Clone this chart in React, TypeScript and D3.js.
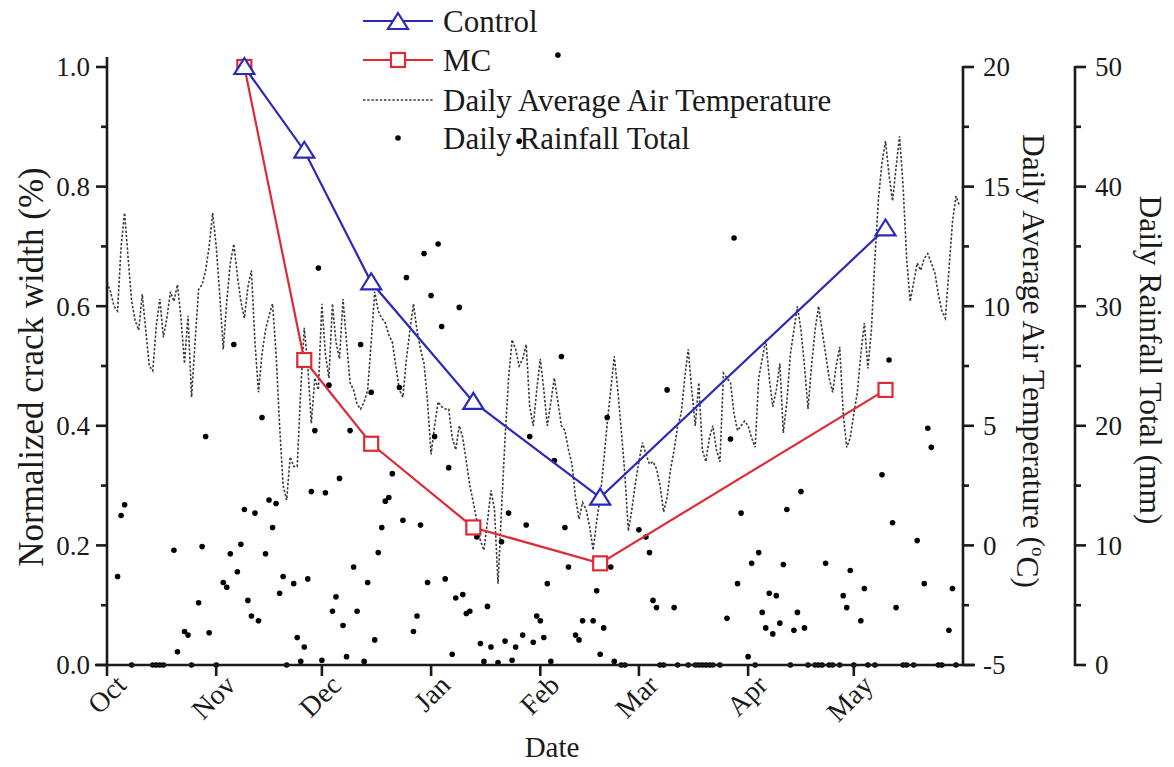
import React, { useEffect, useRef } from "react";
import * as d3 from "d3";

// ---------- DATA ----------
const startDate = "2017-10-01";
const endDate = "2018-06-01";
const monthTicks = ["2017-10-01", "2017-11-01", "2017-12-01", "2018-01-01", "2018-02-01", "2018-03-01", "2018-04-01", "2018-05-01"];
const monthLabels = ["Oct", "Nov", "Dec", "Jan", "Feb", "Mar", "Apr", "May"];

const measureDates = ["2017-11-09", "2017-11-26", "2017-12-15", "2018-01-13", "2018-02-18", "2018-05-10"];
const controlValues = [1.0, 0.86, 0.64, 0.44, 0.28, 0.73];
const mcValues = [1.0, 0.51, 0.37, 0.23, 0.17, 0.46];

// daily average air temperature (°C), one value per day starting 2017-10-01
const dailyTemperature = [
  11.0, 10.6, 10.0, 9.8, 12.5, 13.9, 12.0, 10.2, 9.4, 9.0,
  10.5, 9.0, 7.5, 7.3, 9.2, 10.3, 8.7, 9.5, 10.6, 10.2,
  10.9, 9.5, 7.6, 9.6, 6.2, 8.5, 10.7, 10.9, 11.5, 12.5,
  13.9, 12.5, 10.5, 8.2, 10.2, 11.8, 12.6, 11.3, 10.2, 9.5,
  10.8, 11.5, 8.5, 6.4, 8.0, 9.0, 9.6, 10.1, 8.0, 5.0,
  2.5, 1.9, 3.7, 3.3, 3.3, 6.5, 9.1, 7.5, 5.1, 7.0,
  6.5, 10.1, 8.0, 7.0, 10.1, 8.5, 7.8, 10.3, 8.5, 6.8,
  6.5, 5.9, 5.7, 6.0, 6.5, 8.5, 10.6, 9.8, 9.5, 9.3,
  8.8, 8.5, 7.5, 6.5, 6.2, 7.8, 9.0, 10.1, 9.0, 8.2,
  7.6, 6.0, 3.8, 5.0, 6.0, 5.8, 5.7, 5.7, 4.5, 4.0,
  5.0, 4.5, 3.5, 2.5, 1.8, 1.0, 0.2, -0.2, 1.0, 2.3,
  1.5, -1.6, 1.5, 4.5, 7.0, 8.6, 8.2, 7.5, 7.8, 8.4,
  5.8, 5.0, 6.5, 7.8, 6.5, 5.0, 6.0, 7.0, 6.0, 5.0,
  4.8, 4.0, 3.4, 2.0, 1.1, 1.8, 1.5, 0.8, -0.2, 1.0,
  2.0, 3.5, 5.1, 6.5, 7.9, 6.5, 4.8, 3.0, 0.6, 1.5,
  2.6, 3.5, 4.3, 3.8, 3.4, 3.5, 3.2, 2.5, 1.4, 2.0,
  3.2, 4.0, 5.0, 5.5, 7.0, 8.2, 6.5, 5.0, 6.8, 4.0,
  3.5, 4.5, 5.0, 4.0, 3.5, 7.2, 7.0, 6.8, 5.5, 4.8,
  5.0, 5.2, 5.0, 4.5, 4.1, 7.0, 7.8, 8.6, 7.0, 5.8,
  6.5, 7.6, 4.7, 6.0, 8.0, 9.0, 10.0, 9.0, 7.5, 5.7,
  7.5, 9.0, 10.0, 9.0, 8.0, 7.0, 6.4, 7.5, 8.3, 5.5,
  4.1, 4.5, 5.5, 6.4, 8.0, 9.3, 7.4, 9.0, 12.0, 14.5,
  16.0, 16.9, 15.5, 14.4, 15.8, 17.1, 15.0, 12.0, 10.2, 11.0,
  11.8, 11.5, 12.0, 12.2, 11.8, 11.4, 10.5, 9.8, 9.5, 11.5,
  13.5, 14.6, 14.2,
];

// daily rainfall total (mm), one value per day starting 2017-10-01; null = no mark
const dailyRainfall: (number | null)[] = [
  null, null, null, 7.4, 12.5, 13.4, null, 0, null, null,
  null, null, null, 0, 0, 0, 0, null, null, 9.6,
  1.1, null, 2.8, 2.5, 0, null, 5.2, 9.9, 19.1, 2.7,
  null, 0, null, 6.9, 6.5, 9.3, 26.8, 7.8, 10.1, 13.0,
  5.4, 4.1, 12.7, 3.7, 20.7, 9.3, 13.8, 11.5, 13.5, 6.0,
  7.4, 0, null, 6.8, 2.3, 0.3, 1.5, 7.2, 14.5, 19.6,
  33.2, 0.4, 14.4, 23.4, 4.5, 5.7, 15.6, 3.3, 0.7, 19.6,
  8.2, 4.5, 26.8, 0.3, 6.9, 22.8, 2.1, 9.4, 11.5, 13.7,
  14.0, 16.0, null, 23.2, 12.1, 32.4, null, 2.8, 4.1, 11.7,
  34.4, 6.9, 30.9, 19.1, 35.2, 28.3, 7.2, 16.5, 0.9, 5.6,
  29.9, 5.9, 4.3, 4.5, null, 10.7, 1.8, 0.3, 4.9, 1.5,
  null, 0.2, 10.3, 2.0, 12.7, 0.4, 1.5, 43.8, 2.5, 11.7,
  19.1, 1.9, 4.1, 3.7, 2.3, 6.8, 0.3, 17.1, 51.0, 25.8,
  11.5, 8.2, null, 2.5, 2.1, 3.7, null, null, 3.7, 6.2,
  0.9, 3.1, 20.7, 8.2, 0.3, null, 0, 0, null, null,
  null, 11.3, null, 10.7, 9.4, 5.4, 4.8, 0, 0, 23.0,
  null, 4.8, 0, null, null, 0, null, 0, 0, 0,
  0, 0, 0, null, 0, null, 3.9, 18.9, 35.7, 6.8,
  12.7, null, 0.7, 8.5, 0, 9.4, 4.4, 3.1, 6.0, 2.6,
  5.8, 3.5, 8.4, 13.0, 0, 2.9, 4.4, 14.5, 3.1, 0,
  null, 0, 0, 0, 8.5, 0, 0, null, 0, 5.8,
  4.8, 7.9, 0, null, 3.7, 6.4, 0, null, 0, null,
  15.9, null, 25.5, 11.9, 4.8, null, 0, 0, null, 0,
  10.4, null, 6.8, 19.8, 18.2, null, 0, 0, null, 2.9,
  6.4, 0, null,
];

const leftTicks = [0, 0.2, 0.4, 0.6, 0.8, 1.0];
const tempTicks = [-5, 0, 5, 10, 15, 20];
const rainTicks = [0, 10, 20, 30, 40, 50];

const legendLabels = ["Control", "MC", "Daily Average Air Temperature", "Daily Rainfall Total"];

// ---------- COMPONENT ----------
export default function App() {
  const ref = useRef<SVGSVGElement | null>(null);

  useEffect(() => {
    const W = 1174, H = 767;
    const L = 107, R = 963, T = 67, B = 665;
    const rainX = 1075;
    const font = "'Liberation Serif', 'Times New Roman', serif";
    const svg = d3.select(ref.current);
    svg.selectAll("*").remove();
    svg.attr("width", W).attr("height", H);
    svg.append("rect").attr("width", W).attr("height", H).attr("fill", "#fff");

    const parse = d3.timeParse("%Y-%m-%d");
    const t0 = parse(startDate) as Date;
    const x = d3.scaleTime().domain([t0, parse(endDate) as Date]).range([L, R]);
    const y = d3.scaleLinear().domain([0, 1]).range([B, T]);
    const yT = d3.scaleLinear().domain([-5, 20]).range([B, T]);
    const yR = d3.scaleLinear().domain([0, 50]).range([B, T]);
    const dayDate = (i: number) => d3.timeDay.offset(t0, i);

    // temperature dotted line
    const tLine = d3.line<number>().x((_, i) => x(dayDate(i))).y((v) => yT(v));
    svg.append("path").attr("d", tLine(dailyTemperature) as string)
      .attr("fill", "none").attr("stroke", "#3a3a3a").attr("stroke-width", 1.6)
      .attr("stroke-dasharray", "2.4,1.8");

    // rainfall dots
    dailyRainfall.forEach((v, i) => {
      if (v === null) return;
      svg.append("circle").attr("cx", x(dayDate(i))).attr("cy", yR(v)).attr("r", 2.8).attr("fill", "#000");
    });

    // series lines
    const mDates = measureDates.map((s) => parse(s) as Date);
    const sLine = d3.line<number>().x((_, i) => x(mDates[i])).y((v) => y(v));
    const blue = "#2a2ab8", red = "#de2a36";
    svg.append("path").attr("d", sLine(controlValues) as string).attr("fill", "none").attr("stroke", blue).attr("stroke-width", 2.2);
    svg.append("path").attr("d", sLine(mcValues) as string).attr("fill", "none").attr("stroke", red).attr("stroke-width", 2.2);

    const tri = (g: any, cx: number, cy: number) =>
      g.append("path").attr("d", `M${cx},${cy - 9}L${cx + 10},${cy + 7}L${cx - 10},${cy + 7}Z`)
        .attr("fill", "#fff").attr("stroke", blue).attr("stroke-width", 2.2);
    const sq = (g: any, cx: number, cy: number) =>
      g.append("rect").attr("x", cx - 7).attr("y", cy - 7).attr("width", 14).attr("height", 14)
        .attr("fill", "#fff").attr("stroke", red).attr("stroke-width", 2.2);
    mcValues.forEach((v, i) => sq(svg, x(mDates[i]), y(v)));
    controlValues.forEach((v, i) => tri(svg, x(mDates[i]), y(v)));

    const axisColor = "#1a1a1a";
    const aw = 2.6;
    const ax = svg.append("g").attr("stroke", axisColor).attr("stroke-width", aw);
    // left axis
    ax.append("line").attr("x1", L).attr("x2", L).attr("y1", B + 1).attr("y2", T - 10);
    d3.range(0, 1.0001, 0.1).forEach((v) => {
      const major = Math.round(v * 10) % 2 === 0;
      ax.append("line").attr("x1", L - (major ? 11 : 6)).attr("x2", L).attr("y1", y(v)).attr("y2", y(v));
    });
    // bottom axis
    ax.append("line").attr("x1", L - 12).attr("x2", R + 12).attr("y1", B).attr("y2", B);
    monthTicks.forEach((m) => {
      const xx = x(parse(m) as Date);
      ax.append("line").attr("x1", xx).attr("x2", xx).attr("y1", B).attr("y2", B + 11);
    });
    // temperature axis
    ax.append("line").attr("x1", R).attr("x2", R).attr("y1", B).attr("y2", T - 1);
    d3.range(-5, 20.001, 2.5).forEach((v) => {
      const major = Math.round(v / 2.5) % 2 === 0;
      ax.append("line").attr("x1", R).attr("x2", R + (major ? 11 : 6)).attr("y1", yT(v)).attr("y2", yT(v));
    });
    // rainfall axis
    ax.append("line").attr("x1", rainX).attr("x2", rainX).attr("y1", B + 1).attr("y2", T - 1);
    d3.range(0, 50.001, 5).forEach((v) => {
      const major = Math.round(v / 5) % 2 === 0;
      ax.append("line").attr("x1", rainX).attr("x2", rainX + (major ? 11 : 6)).attr("y1", yR(v)).attr("y2", yR(v));
    });

    const txt = svg.append("g").attr("font-family", font).attr("fill", "#1a1a1a");
    leftTicks.forEach((v) => {
      txt.append("text").attr("x", L - 17).attr("y", y(v)).attr("dy", "0.35em").attr("text-anchor", "end")
        .attr("font-size", 27).text(d3.format(".1f")(v));
    });
    tempTicks.forEach((v) => {
      txt.append("text").attr("x", R + 20).attr("y", yT(v)).attr("dy", "0.35em").attr("font-size", 27).text(String(v));
    });
    rainTicks.forEach((v) => {
      txt.append("text").attr("x", rainX + 20).attr("y", yR(v)).attr("dy", "0.35em").attr("font-size", 27).text(String(v));
    });
    monthTicks.forEach((m, i) => {
      const xx = x(parse(m) as Date);
      txt.append("text").attr("transform", `translate(${xx + 7},${B + 8}) rotate(-45)`)
        .attr("text-anchor", "end").attr("dy", "0.7em").attr("font-size", 28).text(monthLabels[i]);
    });

    // axis titles
    txt.append("text").attr("transform", `translate(43,367) rotate(-90)`).attr("text-anchor", "middle")
      .attr("font-size", 35).text("Normalized crack width (%)");
    const tt = txt.append("text").attr("transform", `translate(1023,361) rotate(90)`).attr("text-anchor", "middle")
      .attr("font-size", 31.5);
    tt.append("tspan").text("Daily Average Air Temperature (");
    tt.append("tspan").attr("dy", "-0.45em").attr("font-size", 19).text("o");
    tt.append("tspan").attr("dy", "0.45em").text("C)");
    txt.append("text").attr("transform", `translate(1140,360) rotate(90)`).attr("text-anchor", "middle")
      .attr("font-size", 31.5).text("Daily Rainfall Total (mm)");
    txt.append("text").attr("x", 552).attr("y", 757).attr("text-anchor", "middle").attr("font-size", 29).text("Date");

    // legend
    const rows = [21, 60, 100, 138];
    const lx1 = 363, lx2 = 433, lxm = 398, ltx = 443;
    svg.append("line").attr("x1", lx1).attr("x2", lx2).attr("y1", rows[0]).attr("y2", rows[0]).attr("stroke", blue).attr("stroke-width", 2.2);
    tri(svg, lxm, rows[0] + 1);
    svg.append("line").attr("x1", lx1).attr("x2", lx2).attr("y1", rows[1]).attr("y2", rows[1]).attr("stroke", red).attr("stroke-width", 2.2);
    sq(svg, lxm, rows[1]);
    svg.append("line").attr("x1", lx1).attr("x2", lx2).attr("y1", rows[2]).attr("y2", rows[2])
      .attr("stroke", "#3a3a3a").attr("stroke-width", 1.6).attr("stroke-dasharray", "2.4,1.8");
    svg.append("circle").attr("cx", lxm).attr("cy", rows[3]).attr("r", 2.8).attr("fill", "#000");
    legendLabels.forEach((s, i) => {
      txt.append("text").attr("x", ltx).attr("y", rows[i]).attr("dy", "0.35em").attr("font-size", 31).text(s);
    });
  }, []);

  return <svg ref={ref} style={{ position: "absolute", left: 0, top: 0 }} />;
}
